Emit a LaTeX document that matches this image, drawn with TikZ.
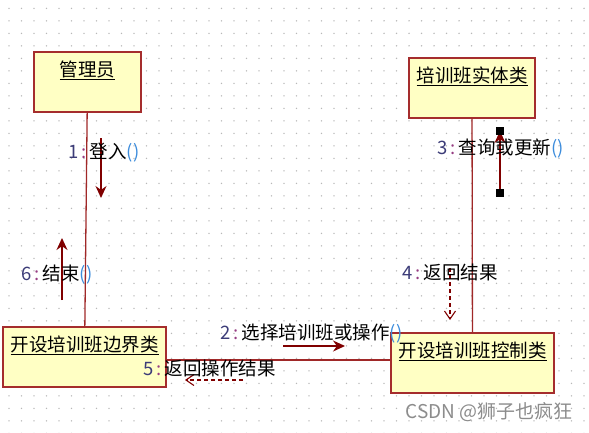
\documentclass[tikz,border=0pt]{standalone}
\usepackage{fontspec}
\setmainfont{Noto Sans CJK SC}
\usetikzlibrary{arrows.meta,calc}
\definecolor{boxfill}{RGB}{255,255,196}
\definecolor{boxline}{RGB}{165,45,45}
\definecolor{lifeline}{RGB}{160,40,40}
\definecolor{msgred}{RGB}{128,0,0}
\definecolor{numblue}{RGB}{60,60,120}
\definecolor{colpurple}{RGB}{150,60,130}
\definecolor{parblue}{RGB}{60,140,220}
\newcommand{\msgtext}[2]{\textcolor{numblue}{#1}\,\textcolor{colpurple}{:}\,#2}
\newcommand{\callpar}{\textcolor{parblue}{()}}

\begin{document}
\begin{tikzpicture}[x=1pt,y=-1pt,
  font=\fontsize{18.5}{21}\selectfont,
  clsbox/.style={draw=boxline,line width=1.3pt,fill=boxfill,inner sep=0pt},
  link/.style={draw=lifeline,line width=1.3pt},
  callarrow/.style={draw=msgred,line width=1.3pt,-{Stealth[length=12pt,width=11pt]}},
  retarrow/.style={draw=msgred,line width=1.1pt,dash pattern=on 4pt off 3pt,-{Straight Barb[length=8pt,width=11pt]}},
  msglabel/.style={anchor=west,inner sep=0pt}]
  \useasboundingbox (0,0) rectangle (589,432);
  \fill[white] (0,0) rectangle (589,432);
  \foreach \i in {0,...,46}
    \foreach \j in {0,...,34}
      \fill[black!28] ({9+12.5*\i},{8.3+12.5*\j}) circle (0.8);

  \node[clsbox,minimum width=107pt,minimum height=60pt,
    label={[anchor=north,yshift=-6pt]north:\underline{管理员}}] (admin) at (87.5,82) {};
  \node[clsbox,minimum width=126pt,minimum height=60pt,
    label={[anchor=north,yshift=-6pt]north:\underline{培训班实体类}}] (entity) at (472,88) {};
  \node[clsbox,minimum width=163pt,minimum height=60pt,
    label={[anchor=north,yshift=-6pt]north:\underline{开设培训班边界类}}] (boundary) at (84.5,357) {};
  \node[clsbox,minimum width=163pt,minimum height=60pt,
    label={[anchor=north,yshift=-6pt]north:\underline{开设培训班控制类}}] (control) at (472.5,363) {};

  \draw[link] (admin) -- (boundary);
  \draw[link] (entity) -- (control);
  \draw[link] ($(boundary.east)+(0,3)$) -- ($(control.west)+(0,-3)$);

  \coordinate (login0) at (101,138);
  \coordinate (login1) at (101,198);
  \coordinate (quit0) at (62,300);
  \coordinate (quit1) at (62,238);
  \coordinate (pick0) at (283,346);
  \coordinate (pick1) at (345,346);
  \coordinate (query0) at (500,193);
  \coordinate (query1) at (500,131);
  \coordinate (res0) at (450,268);
  \coordinate (res1) at (450,320);
  \coordinate (opres0) at (243,380);
  \coordinate (opres1) at (185,380);

  \draw[callarrow] (login0) -- (login1);
  \draw[callarrow] (quit0) -- (quit1);
  \draw[callarrow] (pick0) -- (pick1);
  \draw[callarrow] (query0) -- (query1);
  \fill (query0) +(-4,-4) rectangle +(4,4);
  \fill (query1) +(-4,-4) rectangle +(4,4);
  \draw[retarrow] (res0) -- (res1);
  \draw[retarrow] (opres0) -- (opres1);

  \node[msglabel] (lblogin) at (68,153) {\msgtext{1}{登入\callpar}};
  \node[msglabel] (lbquery) at (437,148) {\msgtext{3}{查询或更新\callpar}};
  \node[msglabel] (lbquit) at (21,275) {\msgtext{6}{结束\callpar}};
  \node[msglabel] (lbpick) at (220,333) {\msgtext{2}{选择培训班或操作\callpar}};
  \node[msglabel] (lbres) at (402,272) {\msgtext{4}{返回结果}};
  \node[msglabel] (lbopres) at (143,368) {\msgtext{5}{返回操作结果}};

  \node[anchor=east,inner sep=0pt,text=black!45,font=\fontsize{19}{22}\selectfont] (mark) at (573,412) {CSDN @狮子也疯狂};
\end{tikzpicture}
\end{document}
